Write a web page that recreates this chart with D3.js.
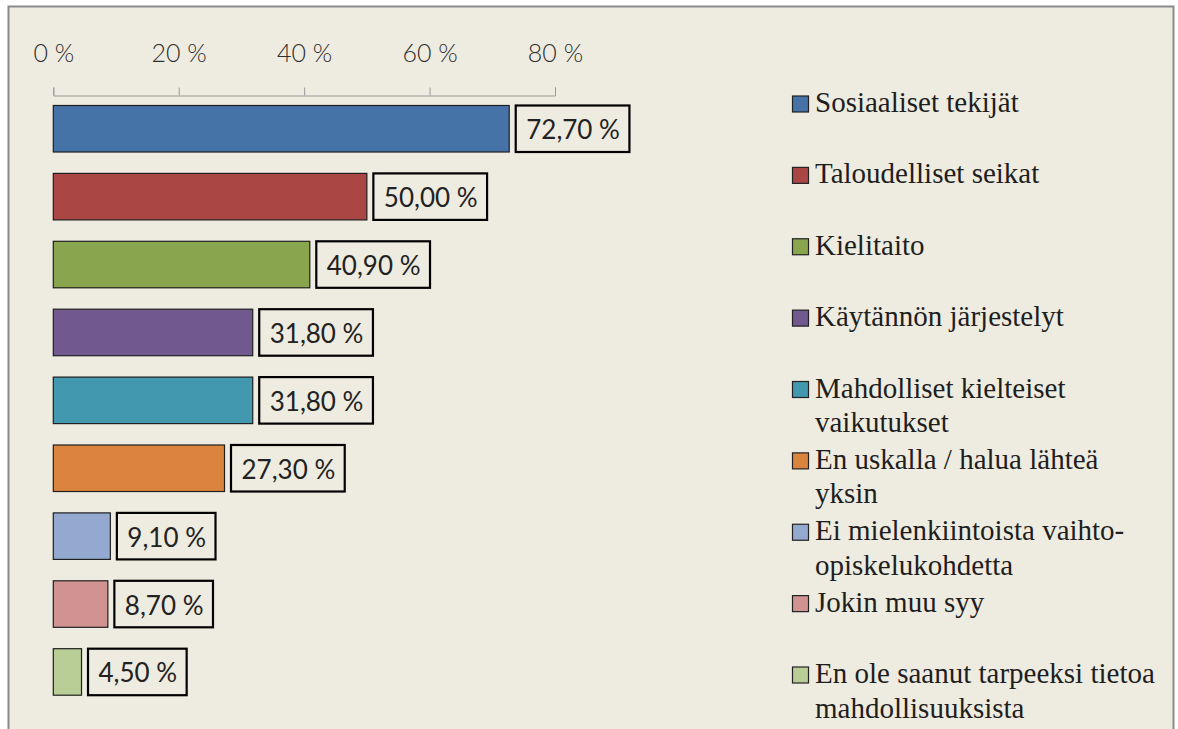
<!DOCTYPE html>
<html>
<head>
<meta charset="utf-8">
<title>Syyt</title>
<script src="https://d3js.org/d3.v7.min.js"></script>
<style>
  body { margin: 0; background: #fff; }
  .axis path, .axis line { stroke: #9a9a9a; }
  .axis text { font-family: Lato, "Open Sans", sans-serif; font-weight: 300; font-size: 25px; fill: #2e2e2e; }
  .lbl text { font-family: Lato, "Open Sans", sans-serif; font-size: 26px; fill: #222; }
  .legend text { font-family: "Liberation Serif", serif; font-size: 29px; fill: #1e1e1e; }
</style>
</head>
<body>
<script>
var width = 1178, height = 729;

var categories = ["Sosiaaliset tekijät", "Taloudelliset seikat", "Kielitaito",
  "Käytännön järjestelyt", "Mahdolliset kielteiset vaikutukset",
  "En uskalla / halua lähteä yksin", "Ei mielenkiintoista vaihto-opiskelukohdetta",
  "Jokin muu syy", "En ole saanut tarpeeksi tietoa mahdollisuuksista"];
var values = [72.7, 50.0, 40.9, 31.8, 31.8, 27.3, 9.1, 8.7, 4.5];
var colors = ["#4572a7", "#aa4643", "#89a54e", "#71588f", "#4198af",
  "#db843d", "#93a9cf", "#d19392", "#b9cd96"];
var ticks = [0, 20, 40, 60, 80];
var legendLines = [["Sosiaaliset tekijät"], ["Taloudelliset seikat"], ["Kielitaito"],
  ["Käytännön järjestelyt"], ["Mahdolliset kielteiset", "vaikutukset"],
  ["En uskalla / halua lähteä", "yksin"], ["Ei mielenkiintoista vaihto-", "opiskelukohdetta"],
  ["Jokin muu syy"], ["En ole saanut tarpeeksi tietoa", "mahdollisuuksista"]];

var fi = d3.formatLocale({decimal: ",", thousands: " ", grouping: [3], currency: ["", "€"]});
var fmt = fi.format(".2f");

var svg = d3.select("body").append("svg")
  .attr("width", width).attr("height", height);

// frame
svg.append("rect")
  .attr("x", 8.5).attr("y", 6.5)
  .attr("width", 1165).attr("height", height + 20)
  .attr("fill", "#eeebe0")
  .attr("stroke", "#8a8a8a")
  .attr("stroke-width", 2);

var x = d3.scaleLinear().domain([0, 80]).range([53.3, 555]);
var y = d3.scaleBand().domain(categories).range([94.8, 705.9])
  .paddingInner(0.315).paddingOuter(0.1575);

svg.append("g")
  .attr("class", "axis")
  .attr("transform", "translate(0,95.5)")
  .call(d3.axisTop(x).tickValues(ticks).tickSize(8).tickPadding(26)
    .tickFormat(function (d) { return d + " %"; }));

svg.selectAll(".bar")
  .data(values)
  .enter()
  .append("rect")
  .attr("class", "bar")
  .attr("x", x(0))
  .attr("y", function (d, i) { return y(categories[i]); })
  .attr("width", function (d) { return x(d) - x(0); })
  .attr("height", y.bandwidth())
  .attr("fill", function (d, i) { return colors[i]; })
  .attr("stroke", "#1f1f1f")
  .attr("stroke-width", 1.2);

var lbl = svg.selectAll(".lbl")
  .data(values)
  .enter()
  .append("g")
  .attr("class", "lbl");

var box = lbl.append("rect")
  .attr("fill", "#eeebe0")
  .attr("stroke", "#000")
  .attr("stroke-width", 2.2);

lbl.append("text")
  .text(function (d) { return fmt(d) + " %"; })
  .attr("x", function (d) { return x(d) + 17; })
  .attr("y", function (d, i) { return y(categories[i]) + y.bandwidth() / 2 + 10.5; })
  .each(function (d, i) {
    var w = this.getComputedTextLength();
    d3.select(this.parentNode).select("rect")
      .attr("x", x(d) + 6.5)
      .attr("y", y(categories[i]))
      .attr("width", w + 20)
      .attr("height", y.bandwidth());
  });

// legend
var ly = d3.scaleLinear().domain([0, categories.length - 1]).range([112, 683]);
var leg = svg.selectAll(".legend")
  .data(categories)
  .enter()
  .append("g")
  .attr("class", "legend")
  .attr("transform", function (d, i) { return "translate(792," + ly(i) + ")"; });

leg.append("rect")
  .attr("x", 0.5).attr("y", -16)
  .attr("width", 16).attr("height", 16)
  .attr("fill", function (d, i) { return colors[i]; })
  .attr("stroke", "#222")
  .attr("stroke-width", 1.2);

leg.append("text")
  .attr("x", 23)
  .selectAll("tspan")
  .data(function (d, i) { return legendLines[i]; })
  .enter()
  .append("tspan")
  .attr("x", 23)
  .attr("y", function (d, j) { return j * 34.5; })
  .text(function (d) { return d; });
</script>
</body>
</html>
